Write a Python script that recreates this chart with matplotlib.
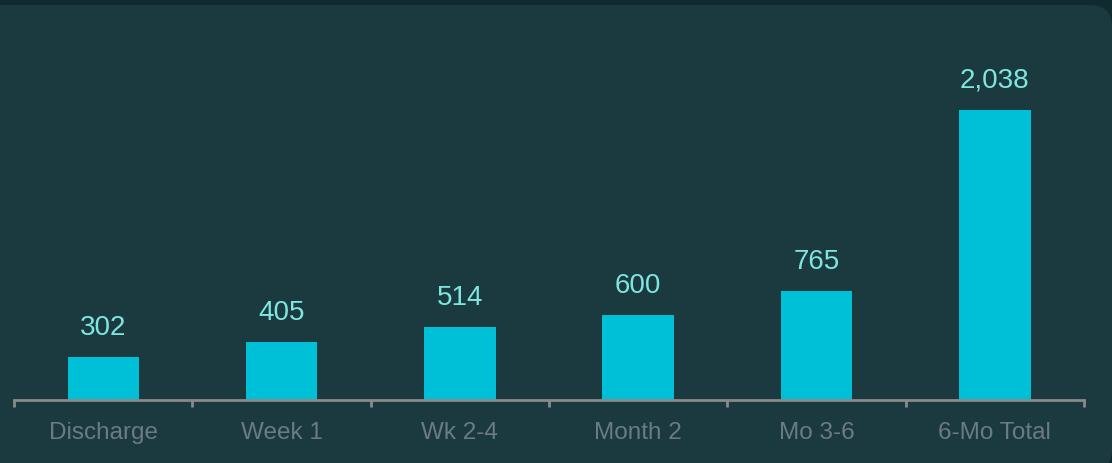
import matplotlib
matplotlib.use('Agg')
import matplotlib.pyplot as plt
from matplotlib.patches import FancyBboxPatch
import numpy as np

categories = ["Discharge", "Week 1", "Wk 2-4", "Month 2", "Mo 3-6", "6-Mo Total"]
values = [302, 405, 514, 600, 765, 2038]

W, H = 1112, 464
outer_bg = '#0f2b2f'
panel_bg = '#1a3a40'
bar_color = '#00c0d8'
label_color = '#7fe6df'
tick_color = '#6b7a84'
axis_color = '#8a8a8a'

plt.rcParams['font.family'] = ['Liberation Sans', 'DejaVu Sans']

fig = plt.figure(figsize=(W / 100, H / 100), dpi=100)
fig.patch.set_facecolor(outer_bg)

# rounded card behind the chart, drawn in pixel units
bg = fig.add_axes([0, 0, 1, 1], zorder=-1)
bg.set_xlim(0, W)
bg.set_ylim(0, H)
bg.axis('off')
bg.add_patch(FancyBboxPatch((-40, -8), W + 40, H - 6 + 8,
                            boxstyle="round,pad=0,rounding_size=22",
                            facecolor=panel_bg, edgecolor='none'))

ax = fig.add_axes([14 / W, (H - 401) / H, (1084 - 14) / W, 391 / H])
ax.set_facecolor('none')

x = np.arange(len(categories))
ax.bar(x, values, width=0.4, color=bar_color, zorder=2)

for xi, v in zip(x, values):
    ax.annotate("{:,}".format(v), (xi, v), xytext=(0, 23), textcoords='offset pixels',
                ha='center', va='baseline', fontsize=20, color=label_color)

ax.set_xlim(-0.5, len(categories) - 0.5)
ax.set_ylim(0, 391 / 0.1423)

for s in ['top', 'right', 'left']:
    ax.spines[s].set_visible(False)
ax.spines['bottom'].set_color(axis_color)
ax.spines['bottom'].set_linewidth(2)
ax.set_yticks([])

ax.set_xticks(x)
ax.set_xticklabels(categories)
ax.tick_params(axis='x', which='major', length=0, pad=15, labelsize=17.5, labelcolor=tick_color)
ax.set_xticks(np.arange(-0.5, len(categories)), minor=True)
ax.tick_params(axis='x', which='minor', length=5, width=2, color=axis_color, direction='out')

plt.savefig('out.png', dpi=100, facecolor=fig.get_facecolor())
